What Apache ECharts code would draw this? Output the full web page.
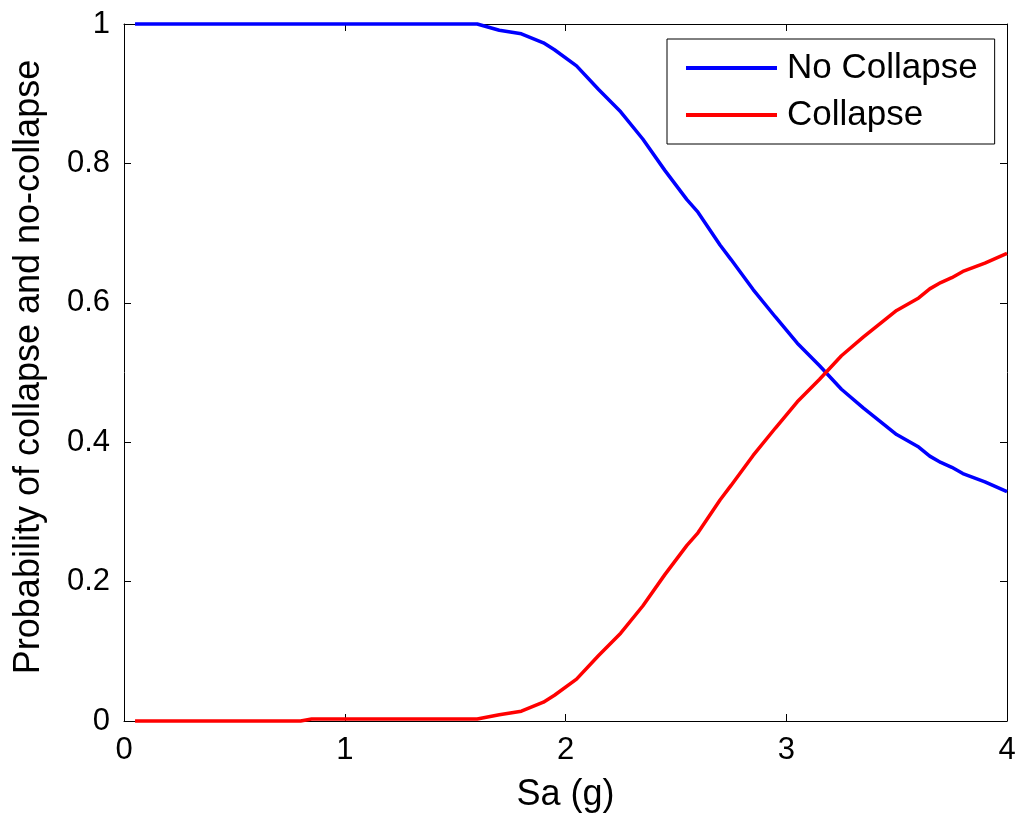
<!DOCTYPE html>
<html>
<head>
<meta charset="utf-8">
<script src="https://cdn.jsdelivr.net/npm/echarts@6/dist/echarts.min.js"></script>
<style>
  html, body { margin: 0; padding: 0; background: #fff; }
  #chart { width: 1019px; height: 818px; }
</style>
</head>
<body>
<div id="chart"></div>
<script>
// Spectral acceleration Sa (g)
const sa = [0.05, 0.8, 0.85, 1.6, 1.7, 1.8, 1.9, 1.95, 2.05, 2.15, 2.25, 2.35, 2.45, 2.55, 2.6,
            2.7, 2.75, 2.85, 2.95, 3.05, 3.15, 3.25, 3.35, 3.5, 3.6, 3.65, 3.7, 3.75, 3.8, 3.9, 4.0];

// Probability of no collapse
const noCollapse = [1, 1, 1, 1, 0.991, 0.986, 0.973, 0.963, 0.94, 0.906, 0.874, 0.835, 0.79, 0.748, 0.73,
                    0.683, 0.662, 0.619, 0.58, 0.542, 0.51, 0.476, 0.449, 0.411, 0.393, 0.38, 0.371, 0.364, 0.355, 0.343, 0.329];

// Probability of collapse
const collapse = [0, 0, 0.003, 0.003, 0.009, 0.014, 0.027, 0.037, 0.06, 0.094, 0.126, 0.165, 0.21, 0.252, 0.27,
                  0.317, 0.338, 0.381, 0.42, 0.458, 0.49, 0.524, 0.551, 0.589, 0.607, 0.62, 0.629, 0.636, 0.645, 0.657, 0.671];

const FONT = '"Liberation Sans", Arial, Helvetica, sans-serif';
const pairs = (xs, ys) => xs.map((x, i) => [x, ys[i]]);

const boxLine = { show: true, onZero: false, lineStyle: { color: '#000', width: 1 } };
const innerTick = { show: true, inside: true, length: 7, lineStyle: { color: '#000', width: 1 } };

const chart = echarts.init(document.getElementById('chart'), null, { renderer: 'canvas' });
chart.setOption({
  animation: false,
  backgroundColor: '#fff',
  grid: { left: 124, right: 12, top: 24, bottom: 97, containLabel: false },
  legend: {
    orient: 'vertical',
    left: 667,
    top: 39,
    padding: [11, 17, 11, 19],
    itemGap: 11,
    itemWidth: 91,
    itemHeight: 4,
    icon: 'rect',
    backgroundColor: '#fff',
    borderColor: '#000',
    borderWidth: 1,
    borderRadius: 0,
    textStyle: { fontFamily: FONT, fontSize: 35, color: '#000', lineHeight: 36, padding: [0, 0, 0, 5] },
    data: ['No Collapse', 'Collapse']
  },
  xAxis: [
    {
      type: 'value', position: 'bottom', min: 0, max: 4, interval: 1,
      name: 'Sa (g)', nameLocation: 'middle', nameGap: 56,
      nameTextStyle: { fontFamily: FONT, fontSize: 36, color: '#000' },
      axisLine: boxLine, axisTick: innerTick, splitLine: { show: false },
      axisLabel: { fontFamily: FONT, fontSize: 31, color: '#000', margin: 14 }
    },
    {
      type: 'value', position: 'top', min: 0, max: 4, interval: 1,
      axisLine: boxLine, axisTick: innerTick, splitLine: { show: false },
      axisLabel: { show: false }
    }
  ],
  yAxis: [
    {
      type: 'value', position: 'left', min: 0, max: 1, interval: 0.2,
      name: 'Probability of collapse and no-collapse', nameLocation: 'middle', nameGap: 77,
      nameTextStyle: { fontFamily: FONT, fontSize: 36, color: '#000', padding: [0, 0, 0, 11] },
      axisLine: boxLine, axisTick: innerTick, splitLine: { show: false },
      axisLabel: {
        fontFamily: FONT, fontSize: 31, color: '#000', margin: 14,
        formatter: v => (v === 0 || v === 1) ? String(v) : v.toFixed(1)
      }
    },
    {
      type: 'value', position: 'right', min: 0, max: 1, interval: 0.2,
      axisLine: boxLine, axisTick: innerTick, splitLine: { show: false },
      axisLabel: { show: false }
    }
  ],
  series: [
    {
      name: 'No Collapse', type: 'line', xAxisIndex: 0, yAxisIndex: 0,
      data: pairs(sa, noCollapse), symbol: 'none', clip: false,
      lineStyle: { color: '#0000ff', width: 3.5 }, itemStyle: { color: '#0000ff' }
    },
    {
      name: 'Collapse', type: 'line', xAxisIndex: 0, yAxisIndex: 0,
      data: pairs(sa, collapse), symbol: 'none', clip: false,
      lineStyle: { color: '#ff0000', width: 3.5 }, itemStyle: { color: '#ff0000' }
    }
  ]
});
</script>
</body>
</html>
